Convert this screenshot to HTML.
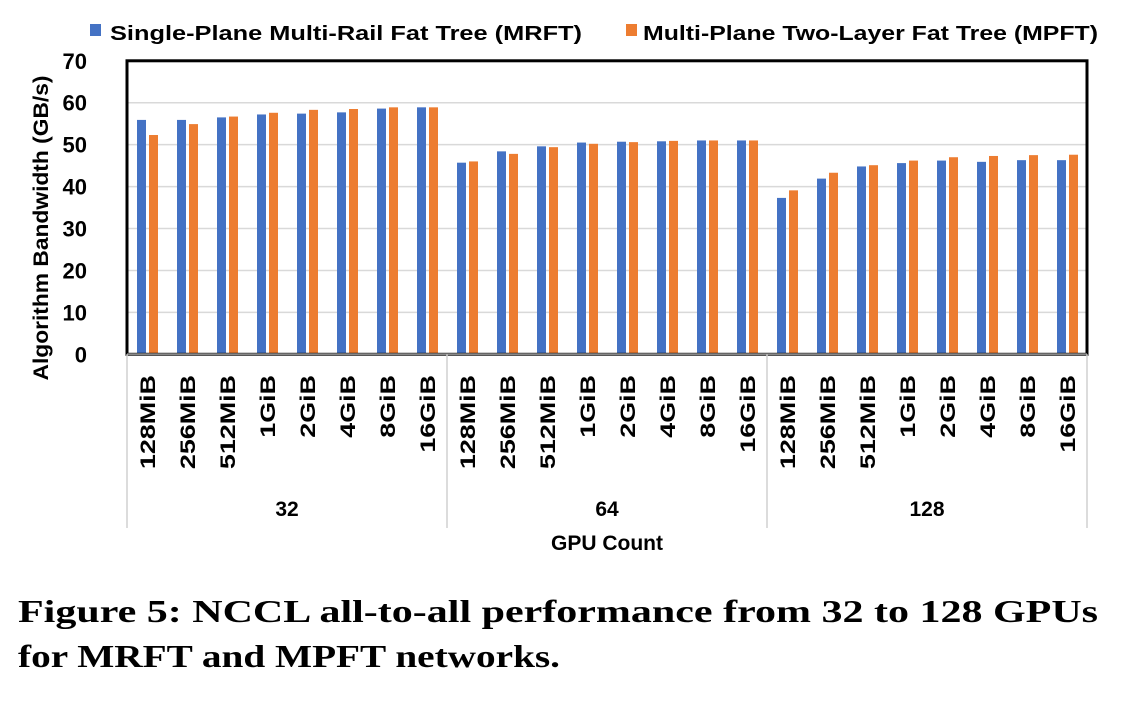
<!DOCTYPE html>
<html><head><meta charset="utf-8"><style>
body{margin:0;background:#fff;width:1140px;height:696px;overflow:hidden}
text{font-family:"Liberation Sans",sans-serif;font-weight:bold;fill:#000}
</style></head><body>
<svg id="chart" width="1140" height="696" xmlns="http://www.w3.org/2000/svg">
<g id="grid"></g>
<g id="bars"></g>
<g id="axes"></g>
<g>
<rect x="90" y="24" width="11" height="12" fill="#4472C4"/>
<text x="110" y="40" font-size="20" textLength="472" lengthAdjust="spacingAndGlyphs">Single-Plane Multi-Rail Fat Tree (MRFT)</text>
<rect x="626" y="24" width="11" height="12" fill="#ED7D31"/>
<text x="643" y="40" font-size="20" textLength="455" lengthAdjust="spacingAndGlyphs">Multi-Plane Two-Layer Fat Tree (MPFT)</text>
</g>
<text transform="translate(48,228) rotate(-90)" text-anchor="middle" font-size="21" textLength="305" lengthAdjust="spacingAndGlyphs">Algorithm Bandwidth (GB/s)</text>
<text x="607" y="550" text-anchor="middle" font-size="21">GPU Count</text>
<text x="18" y="622" font-size="32" style="font-family:'Liberation Serif',serif" textLength="1080" lengthAdjust="spacingAndGlyphs">Figure 5: NCCL all-to-all performance from 32 to 128 GPUs</text>
<text x="18" y="667" font-size="32" style="font-family:'Liberation Serif',serif" textLength="542" lengthAdjust="spacingAndGlyphs">for MRFT and MPFT networks.</text>
</svg>
<script>
const groups = ["32","64","128"];
const sizes = ["128MiB","256MiB","512MiB","1GiB","2GiB","4GiB","8GiB","16GiB"];
const mrft = [55.9,55.9,56.5,57.2,57.4,57.7,58.6,58.9, 45.7,48.4,49.6,50.5,50.7,50.8,51.0,51.0, 37.3,41.9,44.8,45.6,46.2,45.9,46.3,46.3];
const mpft = [52.3,54.9,56.7,57.6,58.3,58.5,58.9,58.9, 46.0,47.8,49.4,50.2,50.6,50.9,51.0,51.0, 39.1,43.3,45.1,46.2,47.0,47.3,47.5,47.6];
const yTicks = [0,10,20,30,40,50,60,70];

const NS="http://www.w3.org/2000/svg";
const L=127,R=1087,Y0=354.3,PX=4.193;
const n=groups.length*sizes.length, cw=(R-L)/n;
const y=v=>Y0-v*PX;
const x=i=>L+cw*(i+0.5);
function mk(tag,attrs,parent,txt){const e=document.createElementNS(NS,tag);for(const k in attrs)e.setAttribute(k,attrs[k]);if(txt!==undefined)e.textContent=txt;parent.appendChild(e);return e;}
const grid=document.getElementById('grid'),bars=document.getElementById('bars'),axes=document.getElementById('axes');
yTicks.forEach(t=>{
  if(t>0&&t<70){const g=mk('line',{x1:L,x2:R,y1:y(t),y2:y(t),stroke:'#d9d9d9','stroke-width':1.5},grid);
  
  }
  const tl=mk('text',{x:87,y:y(t)+8,'text-anchor':'end','font-size':22},axes,String(t));
  
  
});
for(let i=0;i<n;i++){
  const b=mk('rect',{x:x(i)-10,y:y(mrft[i]),width:9,height:mrft[i]*PX,fill:'#4472C4'},bars);
  
  
  const o=mk('rect',{x:x(i)+2,y:y(mpft[i]),width:9,height:mpft[i]*PX,fill:'#ED7D31'},bars);
  
  
  const lab=sizes[i%sizes.length];
  const t=mk('text',{transform:`translate(${x(i)+8},375) rotate(-90) scale(1.28,1)`,'text-anchor':'end','font-size':21},axes,lab);
  
  
}
const fr=mk('rect',{x:L,y:y(70),width:R-L,height:Y0-y(70),fill:'none',stroke:'#000','stroke-width':3},axes);


const ax=mk('line',{x1:L,x2:R,y1:Y0,y2:Y0,stroke:'#888','stroke-width':2},axes);


for(let g=0;g<=groups.length;g++){
  const gx=L+g*cw*sizes.length;
  const s=mk('line',{x1:gx,x2:gx,y1:Y0,y2:528,stroke:'#d0d0d0','stroke-width':1.5},axes);
  
  
  if(g<groups.length){
    const gl=mk('text',{x:gx+cw*sizes.length/2,y:516,'text-anchor':'middle','font-size':21},axes,groups[g]);
    
    
  }
}
</script>
</body></html>
